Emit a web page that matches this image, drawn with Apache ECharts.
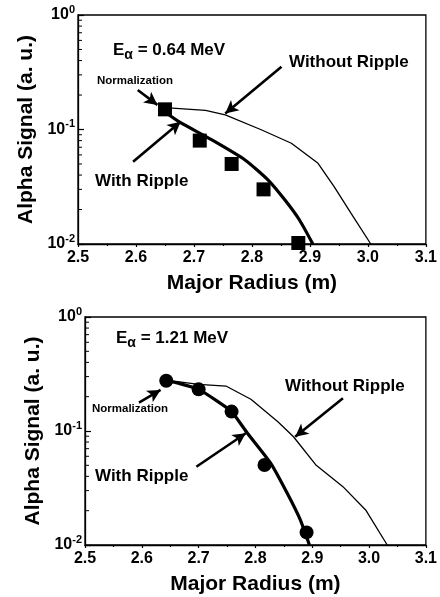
<!DOCTYPE html>
<html><head><meta charset="utf-8">
<script src="https://cdn.jsdelivr.net/npm/echarts@6/dist/echarts.min.js"></script>
<style>html,body{margin:0;padding:0;background:#fff}#c{width:440px;height:597px}</style>
</head><body><div id="c"></div>
<script>
// ---- data ----
const xMin = 2.5, xMax = 3.1, xStep = 0.1;
const yMin = 0.01, yMax = 1;

// top panel (E_alpha = 0.64 MeV)
const topSquaresX = [2.65, 2.71, 2.765, 2.82, 2.88];
const topSquaresY = [0.15, 0.08, 0.05, 0.03, 0.0102];
const topWithX = [2.65, 2.674, 2.731, 2.788, 2.828, 2.857, 2.882, 2.905];
const topWithY = [0.142, 0.117, 0.081, 0.0542, 0.0362, 0.0242, 0.0162, 0.01];
const topWithoutX = [2.65, 2.72, 2.754, 2.817, 2.868, 2.914, 2.942, 2.971, 3.005];
const topWithoutY = [0.155, 0.147, 0.134, 0.099, 0.0758, 0.0507, 0.0316, 0.0185, 0.01];

// bottom panel (E_alpha = 1.21 MeV)
const botCirclesX = [2.643, 2.70, 2.758, 2.816, 2.89];
const botCirclesY = [0.276, 0.232, 0.148, 0.0503, 0.0129];
const botWithX = [2.643, 2.665, 2.70, 2.734, 2.758, 2.786, 2.827, 2.856, 2.879, 2.895];
const botWithY = [0.276, 0.262, 0.232, 0.181, 0.148, 0.0955, 0.052, 0.0284, 0.0166, 0.01];
const botWithoutX = [2.643, 2.70, 2.748, 2.792, 2.84, 2.867, 2.907, 2.954, 2.994, 3.032];
const botWithoutY = [0.28, 0.256, 0.248, 0.19, 0.12, 0.089, 0.05, 0.0325, 0.0203, 0.01];

// y-axis minor tick values (log decades)
const yMinorTicks = [0.02, 0.03, 0.04, 0.05, 0.06, 0.07, 0.08, 0.09, 0.2, 0.3, 0.4, 0.5, 0.6, 0.7, 0.8, 0.9];

// arrow annotations in data coordinates [x1, y1, x2, y2]
const topArrows = [
  [2.603, 0.221, 2.637, 0.164],   // Normalization
  [2.851, 0.353, 2.754, 0.138],   // Without Ripple
  [2.595, 0.0523, 2.677, 0.117]   // With Ripple
];
const botArrows = [
  [2.595, 0.177, 2.633, 0.229],
  [2.954, 0.194, 2.870, 0.089],
  [2.696, 0.0486, 2.783, 0.0955]
];

const xLabel = 'Major Radius (m)';
const yLabel = 'Alpha Signal (a. u.)';
const topEnergy = ' = 0.64 MeV';
const botEnergy = ' = 1.21 MeV';
const txtWithout = 'Without Ripple';
const txtWith = 'With Ripple';
const txtNorm = 'Normalization';

// ---- chart ----
const FF = '"Liberation Sans", Arial, Helvetica, sans-serif';
const zip = (xs, ys) => xs.map((x, i) => [x, ys[i]]);
const chart = echarts.init(document.getElementById('c'), null, {renderer: 'canvas'});

function xAxisCfg(gi) {
  return {
    type: 'value', gridIndex: gi, min: xMin, max: xMax, interval: xStep,
    name: xLabel, nameLocation: 'middle', nameGap: 29,
    nameTextStyle: {fontFamily: FF, fontWeight: 'bold', fontSize: 21, color: '#000'},
    axisLine: {show: true, onZero: false, lineStyle: {color: '#000', width: 1.3}},
    axisTick: {show: true, inside: false, length: 3, lineStyle: {color: '#000', width: 1.2}},
    minorTick: {show: true, splitNumber: 2, length: 2, lineStyle: {color: '#000', width: 1.2}},
    splitLine: {show: false},
    axisLabel: {fontFamily: FF, fontWeight: 'bold', fontSize: 16, color: '#000', margin: 6,
      formatter: v => v.toFixed(1)}
  };
}
function yAxisCfg(gi) {
  return {
    type: 'log', logBase: 10, gridIndex: gi, min: yMin, max: yMax,
    name: yLabel, nameLocation: 'middle', nameGap: 40, nameRotate: 90,
    nameTextStyle: {fontFamily: FF, fontWeight: 'bold', fontSize: 21, color: '#000'},
    axisLine: {show: true, onZero: false, lineStyle: {color: '#000', width: 1.3}},
    axisTick: {show: true, inside: true, length: 6, lineStyle: {color: '#000', width: 1.2}},
    minorTick: {show: false},
    splitLine: {show: false},
    axisLabel: {
      margin: 3,
      formatter: v => {
        const e = Math.round(Math.log10(v));
        return '{b|10}{s|' + (e === 0 ? '0' : '-' + (-e)) + '}';
      },
      rich: {
        b: {fontFamily: FF, fontWeight: 'bold', fontSize: 16, color: '#000'},
        s: {fontFamily: FF, fontWeight: 'bold', fontSize: 11, color: '#000', padding: [0, 0, 11, 0]}
      }
    }
  };
}
function arrowLines(arr) {
  return {
    silent: true, animation: false,
    symbol: ['none', 'arrow'], symbolSize: [10, 13],
    lineStyle: {color: '#000', width: 2.6, type: 'solid'},
    label: {show: false},
    emphasis: {disabled: true},
    data: arr.map(a => [{coord: [a[0], a[1]]}, {coord: [a[2], a[3]]}])
  };
}
function minorTickSeries(gi) {
  return {
    type: 'custom', xAxisIndex: gi, yAxisIndex: gi, silent: true, clip: false,
    data: yMinorTicks.map(v => [xMin, v]),
    renderItem: (params, api) => {
      const p = api.coord([api.value(0), api.value(1)]);
      return {type: 'line', shape: {x1: p[0], y1: p[1], x2: p[0] + 4, y2: p[1]},
        style: {stroke: '#000', lineWidth: 1}};
    }
  };
}
function textEl(x, y, text, size) {
  return {type: 'text', x: x, y: y, silent: true,
    style: {text: text, font: 'bold ' + size + 'px ' + FF, fill: '#000', verticalAlign: 'middle', align: 'left'}};
}
function energyEl(x, y, rest) {
  return {type: 'text', x: x, y: y, silent: true,
    style: {text: '{E|E}{a|α}{t|' + rest + '}', verticalAlign: 'middle', align: 'left', fill: '#000',
      rich: {
        E: {fontFamily: FF, fontWeight: 'bold', fontSize: 17, fill: '#000'},
        a: {fontFamily: FF, fontWeight: 'bold', fontSize: 14, fill: '#000', padding: [10, 0, 0, 0]},
        t: {fontFamily: FF, fontWeight: 'bold', fontSize: 17, fill: '#000'}
      }}};
}

const option = {
  animation: false,
  backgroundColor: '#fff',
  grid: [
    {left: 78, top: 15, width: 351, height: 229, show: true, borderColor: '#000', borderWidth: 1.3, backgroundColor: 'transparent'},
    {left: 85, top: 317, width: 346, height: 228, show: true, borderColor: '#000', borderWidth: 1.3, backgroundColor: 'transparent'}
  ],
  xAxis: [xAxisCfg(0), xAxisCfg(1)],
  yAxis: [yAxisCfg(0), yAxisCfg(1)],
  series: [
    minorTickSeries(0),
    minorTickSeries(1),
    {type: 'line', xAxisIndex: 0, yAxisIndex: 0, data: zip(topWithoutX, topWithoutY), showSymbol: false,
      lineStyle: {color: '#000', width: 1.3}, silent: true, markLine: arrowLines(topArrows)},
    {type: 'line', xAxisIndex: 0, yAxisIndex: 0, data: zip(topWithX, topWithY), showSymbol: false, smooth: 0.2,
      lineStyle: {color: '#000', width: 3.2}, silent: true},
    {type: 'scatter', xAxisIndex: 0, yAxisIndex: 0, data: zip(topSquaresX, topSquaresY), symbol: 'rect',
      symbolSize: 14, itemStyle: {color: '#000', opacity: 1}, clip: false, silent: true},
    {type: 'line', xAxisIndex: 1, yAxisIndex: 1, data: zip(botWithoutX, botWithoutY), showSymbol: false,
      lineStyle: {color: '#000', width: 1.3}, silent: true, markLine: arrowLines(botArrows)},
    {type: 'line', xAxisIndex: 1, yAxisIndex: 1, data: zip(botWithX, botWithY), showSymbol: false, smooth: 0.2,
      lineStyle: {color: '#000', width: 3.2}, silent: true},
    {type: 'scatter', xAxisIndex: 1, yAxisIndex: 1, data: zip(botCirclesX, botCirclesY), symbol: 'circle',
      symbolSize: 14, itemStyle: {color: '#000', opacity: 1}, clip: false, silent: true}
  ],
  graphic: [
    energyEl(113, 50, topEnergy),
    textEl(289, 62, txtWithout, 17),
    textEl(97, 81, txtNorm, 11.5),
    textEl(95, 181, txtWith, 17),
    energyEl(116, 338, botEnergy),
    textEl(285, 386, txtWithout, 17),
    textEl(92, 409, txtNorm, 11.5),
    textEl(95, 476, txtWith, 17)
  ]
};
chart.setOption(option);
</script>
</body></html>
